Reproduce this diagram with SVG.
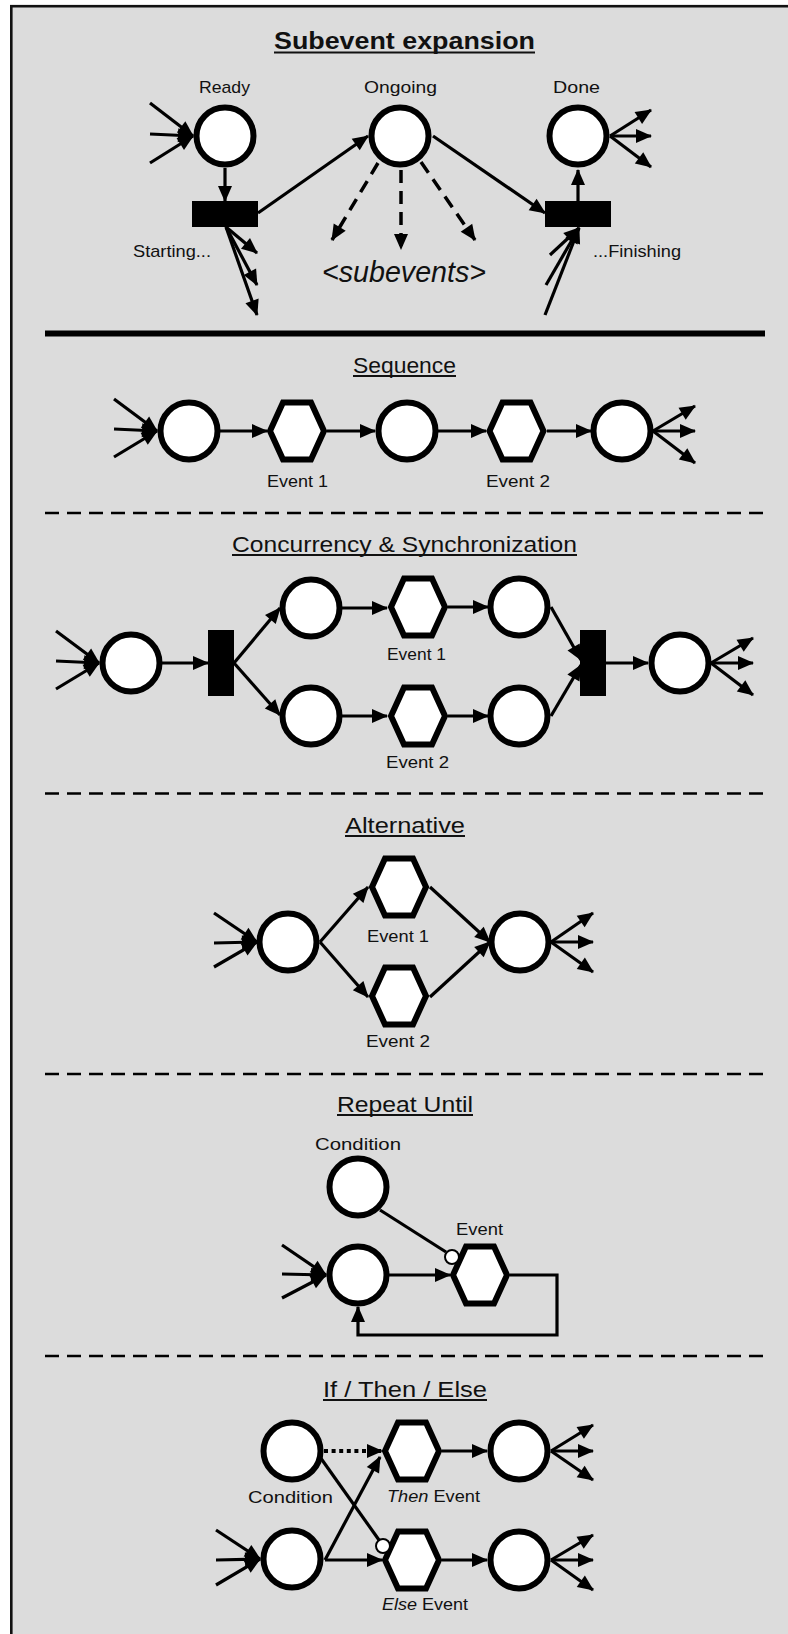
<svg xmlns="http://www.w3.org/2000/svg" xmlns:xlink="http://www.w3.org/1999/xlink" width="788" height="1634" viewBox="0 0 788 1634">
<style>
.place{fill:#fff;stroke:#000;stroke-width:6}
.ev{fill:#fff;stroke:#000;stroke-width:6;stroke-linejoin:miter}
.bar{fill:#000}
.c{stroke:#000;stroke-width:3.2;fill:none;marker-end:url(#ah)}
.p{stroke:#000;stroke-width:3.2;fill:none}
.d{stroke-dasharray:13 8;stroke-width:3.5}
.dot{stroke-dasharray:4 3.6;stroke-width:4}
.sep{stroke:#000;stroke-width:2.7;stroke-dasharray:14 8;fill:none}
.inh{fill:#fff;stroke:#000;stroke-width:2}
.t{font-family:"Liberation Sans",Arial,sans-serif;font-size:17px;fill:#111}
.ttl{font-size:22px}
.ul{stroke:#111;stroke-width:1.8}
</style>
<defs>
<marker id="ah" markerUnits="userSpaceOnUse" markerWidth="20" markerHeight="20" refX="15" refY="7" orient="auto" overflow="visible"><path d="M0,0 L16,7 L0,14 Z" fill="#000"/></marker>
<polygon id="hex" class="ev" points="-27,0 -14,-28.5 14,-28.5 27,0 14,28.5 -14,28.5"/>
</defs>
<rect x="11.3" y="6.2" width="800" height="1700" fill="#dcdcdc" stroke="#111" stroke-width="2.6"/>

<!-- Section 1: Subevent expansion -->
<g id="title-subevent">
<text class="t" x="274" y="49" font-size="23" font-weight="bold" textLength="261" lengthAdjust="spacingAndGlyphs" style="font-size:23px">Subevent expansion</text>
<line class="ul" x1="274" y1="52.5" x2="535" y2="52.5" stroke-width="2.2"/>
</g>
<g id="ready"><circle class="place" cx="225" cy="136" r="28.5"/><text class="t" x="199" y="93" textLength="51" lengthAdjust="spacingAndGlyphs">Ready</text></g>
<g id="ongoing"><circle class="place" cx="400" cy="136" r="28.5"/><text class="t" x="364" y="93" textLength="73" lengthAdjust="spacingAndGlyphs">Ongoing</text></g>
<g id="done"><circle class="place" cx="578" cy="136" r="28.5"/><text class="t" x="553" y="93" textLength="47" lengthAdjust="spacingAndGlyphs">Done</text></g>
<g id="starting"><rect class="bar" x="192" y="201" width="66" height="26"/><text class="t" x="133" y="257" textLength="78" lengthAdjust="spacingAndGlyphs">Starting...</text></g>
<g id="finishing"><rect class="bar" x="545" y="201" width="66" height="26"/><text class="t" x="593" y="257" textLength="88" lengthAdjust="spacingAndGlyphs">...Finishing</text></g>
<g id="subevents"><text class="t" x="322" y="282" font-style="italic" textLength="164" lengthAdjust="spacingAndGlyphs" style="font-size:29px">&lt;subevents&gt;</text></g>
<line x1="45" y1="333.5" x2="765" y2="333.5" stroke="#000" stroke-width="6"/>

<!-- Section 2: Sequence -->
<g id="title-sequence"><text class="t ttl" x="353" y="373" textLength="103" lengthAdjust="spacingAndGlyphs">Sequence</text><line class="ul" x1="353" y1="376" x2="456" y2="376"/></g>
<g id="seq-p1"><circle class="place" cx="189" cy="431" r="28.5"/></g>
<g id="seq-e1"><use xlink:href="#hex" x="297" y="431"/><text class="t" x="267" y="487" textLength="61" lengthAdjust="spacingAndGlyphs">Event 1</text></g>
<g id="seq-p2"><circle class="place" cx="407" cy="431" r="28.5"/></g>
<g id="seq-e2"><use xlink:href="#hex" x="516.5" y="431"/><text class="t" x="486" y="487" textLength="64" lengthAdjust="spacingAndGlyphs">Event 2</text></g>
<g id="seq-p3"><circle class="place" cx="622" cy="431" r="28.5"/></g>
<line class="sep" x1="45" y1="513" x2="765" y2="513"/>

<!-- Section 3: Concurrency -->
<g id="title-conc"><text class="t ttl" x="232" y="552" textLength="345" lengthAdjust="spacingAndGlyphs">Concurrency &amp; Synchronization</text><line class="ul" x1="232" y1="555" x2="577" y2="555"/></g>
<g id="conc-p0"><circle class="place" cx="131" cy="663" r="28.5"/></g>
<g id="conc-fork"><rect class="bar" x="208" y="630" width="26" height="66"/></g>
<g id="conc-p1"><circle class="place" cx="311" cy="608" r="28.5"/></g>
<g id="conc-p2"><circle class="place" cx="311" cy="716" r="28.5"/></g>
<g id="conc-e1"><use xlink:href="#hex" x="418" y="607"/><text class="t" x="387" y="660" textLength="59" lengthAdjust="spacingAndGlyphs">Event 1</text></g>
<g id="conc-e2"><use xlink:href="#hex" x="418" y="716"/><text class="t" x="386" y="768" textLength="63" lengthAdjust="spacingAndGlyphs">Event 2</text></g>
<g id="conc-p3"><circle class="place" cx="519" cy="607" r="28.5"/></g>
<g id="conc-p4"><circle class="place" cx="519" cy="716" r="28.5"/></g>
<g id="conc-join"><rect class="bar" x="580" y="630" width="26" height="66"/></g>
<g id="conc-p5"><circle class="place" cx="680" cy="663" r="28.5"/></g>
<line class="sep" x1="45" y1="793.5" x2="765" y2="793.5"/>

<!-- Section 4: Alternative -->
<g id="title-alt"><text class="t ttl" x="345" y="833" textLength="120" lengthAdjust="spacingAndGlyphs">Alternative</text><line class="ul" x1="345" y1="836" x2="465" y2="836"/></g>
<g id="alt-p0"><circle class="place" cx="288" cy="942" r="28.5"/></g>
<g id="alt-e1"><use xlink:href="#hex" x="399" y="887"/><text class="t" x="367" y="942" textLength="62" lengthAdjust="spacingAndGlyphs">Event 1</text></g>
<g id="alt-e2"><use xlink:href="#hex" x="399" y="996"/><text class="t" x="366" y="1047" textLength="64" lengthAdjust="spacingAndGlyphs">Event 2</text></g>
<g id="alt-p1"><circle class="place" cx="520" cy="942" r="28.5"/></g>
<line class="sep" x1="45" y1="1074" x2="765" y2="1074"/>

<!-- Section 5: Repeat Until -->
<g id="title-repeat"><text class="t ttl" x="337" y="1112" textLength="136" lengthAdjust="spacingAndGlyphs">Repeat Until</text><line class="ul" x1="337" y1="1115" x2="473" y2="1115"/></g>
<g id="rep-cond"><circle class="place" cx="358" cy="1187" r="28.5"/><text class="t" x="315" y="1150" textLength="86" lengthAdjust="spacingAndGlyphs">Condition</text></g>
<g id="rep-p0"><circle class="place" cx="358" cy="1275" r="28.5"/></g>
<g id="rep-ev"><use xlink:href="#hex" x="480" y="1275"/><text class="t" x="456" y="1235" textLength="47" lengthAdjust="spacingAndGlyphs">Event</text></g>
<line class="sep" x1="45" y1="1356" x2="765" y2="1356"/>

<!-- Section 6: If / Then / Else -->
<g id="title-if"><text class="t ttl" x="323" y="1397" textLength="164" lengthAdjust="spacingAndGlyphs">If / Then / Else</text><line class="ul" x1="323" y1="1400" x2="487" y2="1400"/></g>
<g id="if-cond"><circle class="place" cx="292" cy="1451" r="28.5"/><text class="t" x="248" y="1503" textLength="85" lengthAdjust="spacingAndGlyphs">Condition</text></g>
<g id="if-p0"><circle class="place" cx="292" cy="1559" r="28.5"/></g>
<g id="if-then"><use xlink:href="#hex" x="412" y="1451"/><text class="t" x="387" y="1502" textLength="93" lengthAdjust="spacingAndGlyphs"><tspan font-style="italic">Then</tspan> Event</text></g>
<g id="if-else"><use xlink:href="#hex" x="412" y="1560"/><text class="t" x="382" y="1610" textLength="86" lengthAdjust="spacingAndGlyphs"><tspan font-style="italic">Else</tspan> Event</text></g>
<g id="if-p1"><circle class="place" cx="519" cy="1451" r="28.5"/></g>
<g id="if-p2"><circle class="place" cx="519" cy="1560" r="28.5"/></g>

<g id="connectors">
<!-- section 1 -->
<line class="c" x1="150" y1="103" x2="193" y2="136"/>
<line class="c" x1="150" y1="134" x2="193" y2="136"/>
<line class="c" x1="150" y1="163" x2="193" y2="136"/>
<line class="c" x1="225" y1="168" x2="225" y2="201"/>
<line class="c" x1="258" y1="213" x2="368" y2="136"/>
<line class="c" x1="433" y1="136" x2="545" y2="213"/>
<line class="c" x1="578" y1="201" x2="578" y2="170"/>
<line class="c d" x1="378" y1="163" x2="332" y2="240"/>
<line class="c d" x1="401" y1="170" x2="401" y2="249"/>
<line class="c d" x1="421" y1="162" x2="475" y2="240"/>
<line class="c" x1="226" y1="227" x2="257" y2="253"/>
<line class="c" x1="226" y1="227" x2="257" y2="285"/>
<line class="c" x1="226" y1="227" x2="257" y2="315"/>
<line class="c" x1="550" y1="255" x2="579" y2="228"/>
<line class="c" x1="546" y1="285" x2="579" y2="228"/>
<line class="c" x1="545" y1="315" x2="579" y2="228"/>
<line class="c" x1="610" y1="136" x2="651" y2="110"/>
<line class="c" x1="610" y1="136" x2="651" y2="136"/>
<line class="c" x1="610" y1="136" x2="651" y2="167"/>
<!-- sequence -->
<line class="c" x1="114" y1="399" x2="157" y2="431"/>
<line class="c" x1="114" y1="429" x2="157" y2="431"/>
<line class="c" x1="114" y1="457" x2="157" y2="431"/>
<line class="c" x1="220" y1="431" x2="267" y2="431"/>
<line class="c" x1="327" y1="431" x2="375" y2="431"/>
<line class="c" x1="438" y1="431" x2="486" y2="431"/>
<line class="c" x1="547" y1="431" x2="591" y2="431"/>
<line class="c" x1="653" y1="431" x2="695" y2="406"/>
<line class="c" x1="653" y1="431" x2="695" y2="431"/>
<line class="c" x1="653" y1="431" x2="695" y2="463"/>
<!-- concurrency -->
<line class="c" x1="56" y1="631" x2="99" y2="663"/>
<line class="c" x1="56" y1="661" x2="99" y2="663"/>
<line class="c" x1="56" y1="689" x2="99" y2="663"/>
<line class="c" x1="162" y1="663" x2="208" y2="663"/>
<line class="c" x1="234" y1="663" x2="280" y2="608"/>
<line class="c" x1="234" y1="663" x2="280" y2="715"/>
<line class="c" x1="342" y1="608" x2="387" y2="608"/>
<line class="c" x1="342" y1="716" x2="387" y2="716"/>
<line class="c" x1="448" y1="607" x2="488" y2="607"/>
<line class="c" x1="448" y1="716" x2="488" y2="716"/>
<line class="c" x1="551" y1="607" x2="581" y2="660"/>
<line class="c" x1="551" y1="716" x2="581" y2="665"/>
<line class="c" x1="606" y1="663" x2="648" y2="663"/>
<line class="c" x1="711" y1="663" x2="753" y2="638"/>
<line class="c" x1="711" y1="663" x2="753" y2="663"/>
<line class="c" x1="711" y1="663" x2="753" y2="695"/>
<!-- alternative -->
<line class="c" x1="214" y1="913" x2="257" y2="942"/>
<line class="c" x1="214" y1="943" x2="257" y2="942"/>
<line class="c" x1="214" y1="967" x2="257" y2="942"/>
<line class="c" x1="320" y1="942" x2="368" y2="887"/>
<line class="c" x1="320" y1="942" x2="368" y2="997"/>
<line class="c" x1="430" y1="887" x2="490" y2="942"/>
<line class="c" x1="430" y1="997" x2="490" y2="942"/>
<line class="c" x1="551" y1="942" x2="593" y2="913"/>
<line class="c" x1="551" y1="942" x2="593" y2="942"/>
<line class="c" x1="551" y1="942" x2="593" y2="972"/>
<!-- repeat until -->
<line class="c" x1="282" y1="1245" x2="326" y2="1275"/>
<line class="c" x1="282" y1="1274" x2="326" y2="1275"/>
<line class="c" x1="282" y1="1298" x2="326" y2="1275"/>
<line class="c" x1="389" y1="1275" x2="450" y2="1275"/>
<polyline class="c" points="510,1275 557,1275 557,1335 358,1335 358,1307"/>
<line class="p" x1="380" y1="1210" x2="446" y2="1252"/>
<circle class="inh" cx="452" cy="1257" r="7"/>
<!-- if then else -->
<line class="c" x1="216" y1="1530" x2="260" y2="1559"/>
<line class="c" x1="216" y1="1560" x2="260" y2="1559"/>
<line class="c" x1="216" y1="1585" x2="260" y2="1559"/>
<line class="c dot" x1="324" y1="1451" x2="382" y2="1451"/>
<line class="c" x1="325" y1="1560" x2="380" y2="1457"/>
<line class="c" x1="325" y1="1560" x2="382" y2="1560"/>
<line class="p" x1="320" y1="1457" x2="379" y2="1540"/>
<circle class="inh" cx="383" cy="1546" r="7"/>
<line class="c" x1="442" y1="1451" x2="487" y2="1451"/>
<line class="c" x1="442" y1="1560" x2="487" y2="1560"/>
<line class="c" x1="551" y1="1451" x2="593" y2="1425"/>
<line class="c" x1="551" y1="1451" x2="593" y2="1451"/>
<line class="c" x1="551" y1="1451" x2="593" y2="1480"/>
<line class="c" x1="551" y1="1560" x2="593" y2="1535"/>
<line class="c" x1="551" y1="1560" x2="593" y2="1560"/>
<line class="c" x1="551" y1="1560" x2="593" y2="1590"/>
</g>
</svg>
